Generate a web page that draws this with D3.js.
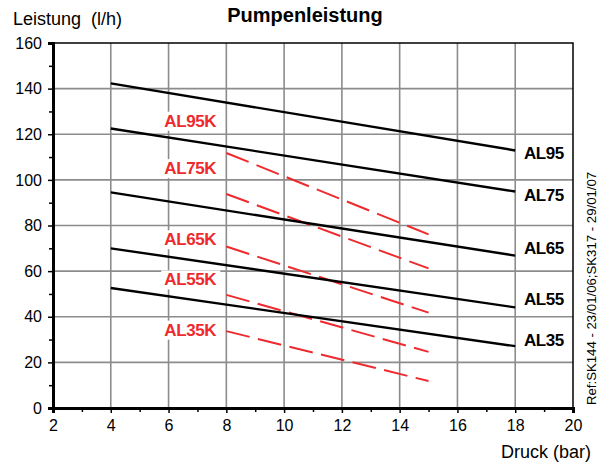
<!DOCTYPE html>
<html>
<head>
<meta charset="utf-8">
<title>Pumpenleistung</title>
<script src="https://d3js.org/d3.v7.min.js"></script>
<style>
  body { margin: 0; background: #fff; }
  svg { font-family: "Liberation Sans", Arial, sans-serif; }
  .grid line { stroke: #8c8c8c; stroke-width: 1.6; }
  .solid { fill: none; stroke: #000; stroke-width: 2.4; }
  .dashed { fill: none; stroke: #ee2a2e; stroke-width: 2; stroke-dasharray: 24 8.5; }
  .lbl { font-weight: bold; font-size: 17px; letter-spacing: -0.4px; }
  .tick text { font-size: 16px; fill: #000; }
</style>
</head>
<body>
<script>
// pumps (solid) - flow at 4 bar and at 18 bar
var pumps = ['AL95', 'AL75', 'AL65', 'AL55', 'AL35'];
var pumpStart = [142.3, 122.5, 94.5, 70, 52.6];
var pumpEnd = [112.9, 94.9, 66.8, 44.1, 27.1];
var pumpLabelY = [112, 93.4, 70, 47.7, 30];

// K versions (dashed) - flow at 8 bar and at 15 bar
var kPumps = ['AL95K', 'AL75K', 'AL65K', 'AL55K', 'AL35K'];
var kStart = [111.8, 93.8, 70.8, 49.6, 33.7];
var kEnd = [76.1, 61.2, 41.8, 24.6, 11.8];
var kLabelY = [126, 105.2, 74, 56.4, 34.4];

var xTicks = [2, 4, 6, 8, 10, 12, 14, 16, 18, 20];
var yTicks = [0, 20, 40, 60, 80, 100, 120, 140, 160];

var W = 603, H = 462;
var m = { left: 53, right: 30, top: 43, bottom: 54 };

var svg = d3.select('body').append('svg').attr('width', W).attr('height', H);

var x = d3.scaleLinear().domain([2, 20]).range([m.left, W - m.right]);
var y = d3.scaleLinear().domain([0, 160]).range([H - m.bottom, m.top]);

// grid
var grid = svg.append('g').attr('class', 'grid');
grid.selectAll('.gx').data(xTicks.slice(1, -1)).enter().append('line')
  .attr('x1', function(d){ return x(d) }).attr('x2', function(d){ return x(d) })
  .attr('y1', y(0)).attr('y2', y(160));
grid.selectAll('.gy').data(yTicks.slice(1, -1)).enter().append('line')
  .attr('x1', x(2)).attr('x2', x(20))
  .attr('y1', function(d){ return y(d) }).attr('y2', function(d){ return y(d) });

// frame top / right
svg.append('path')
  .attr('d', 'M' + x(2) + ',' + y(160) + 'H' + x(20) + 'V' + y(0))
  .attr('fill', 'none').attr('stroke', '#000').attr('stroke-width', 1.5);

// axes
svg.append('g').attr('transform', 'translate(0,' + y(0) + ')')
  .call(d3.axisBottom(x).tickValues(xTicks).tickSize(5).tickPadding(7).tickFormat(d3.format('d')));
svg.append('g').attr('transform', 'translate(0,' + y(0) + ')')
  .call(d3.axisBottom(x).tickValues(d3.range(3, 20, 2)).tickSize(4).tickFormat(''));
svg.append('g').attr('transform', 'translate(' + x(2) + ',0)')
  .call(d3.axisLeft(y).tickValues(yTicks).tickSize(5).tickPadding(6));
svg.append('g').attr('transform', 'translate(' + x(2) + ',0)')
  .call(d3.axisLeft(y).tickValues(d3.range(10, 160, 20)).tickSize(4).tickFormat(''));
svg.selectAll('.domain').attr('stroke', '#000').attr('stroke-width', 3);
svg.selectAll('.tick line').attr('stroke', '#000').attr('stroke-width', 1.5);

var line = d3.line().x(function(d){ return x(d[0]) }).y(function(d){ return y(d[1]) });

// dashed K lines
kPumps.forEach(function(k, i) {
  svg.append('path').attr('class', 'dashed')
    .datum([[8, kStart[i]], [15, kEnd[i]]]).attr('d', line);
});

// solid lines
pumps.forEach(function(p, i) {
  svg.append('path').attr('class', 'solid')
    .datum([[4, pumpStart[i]], [18, pumpEnd[i]]]).attr('d', line);
});

// K labels with white background
kPumps.forEach(function(k, i) {
  var g = svg.append('g');
  var t = g.append('text').attr('class', 'lbl').attr('fill', '#ee2a2e')
    .attr('x', x(6.75)).attr('y', y(kLabelY[i])).attr('dy', '0.36em')
    .attr('text-anchor', 'middle').text(k);
  var b = t.node().getBBox();
  g.insert('rect', 'text').attr('x', b.x - 3).attr('y', b.y).attr('width', b.width + 6)
    .attr('height', b.height).attr('fill', '#fff');
});

// pump labels
svg.selectAll('.plbl').data(pumps).enter().append('text').attr('class', 'lbl')
  .attr('x', x(18.3)).attr('y', function(d, i){ return y(pumpLabelY[i]) })
  .attr('dy', '0.36em').text(function(d){ return d });

// titles
svg.append('text').attr('x', 305).attr('y', 22).attr('text-anchor', 'middle')
  .attr('font-weight', 'bold').attr('font-size', 20).text('Pumpenleistung');
svg.append('text').attr('x', 13).attr('y', 25).attr('font-size', 18)
  .attr('xml:space', 'preserve').text('Leistung  (l/h)');
svg.append('text').attr('x', 591).attr('y', 458).attr('text-anchor', 'end')
  .attr('font-size', 18).text('Druck (bar)');
svg.append('text').attr('transform', 'translate(596,405) rotate(-90)')
  .attr('font-size', 13.2).text('Ref:SK144 - 23/01/06;SK317 - 29/01/07');
</script>
</body>
</html>
